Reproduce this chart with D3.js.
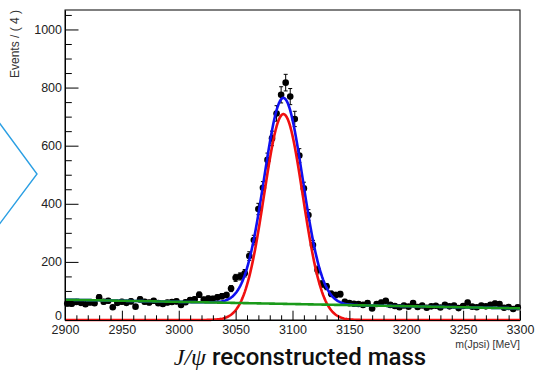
<!DOCTYPE html>
<html>
<head>
<meta charset="utf-8">
<script src="https://cdn.jsdelivr.net/npm/d3@7"></script>
<style>
  html, body { margin: 0; padding: 0; background: #fff; }
  #container { width: 539px; height: 375px; }
</style>
</head>
<body>
<div id="container"></div>
<script>
// histogram bin centres (4 MeV bins from 2900 to 3300)
const binCenters = [
  2902, 2906, 2910, 2914, 2918, 2922, 2926, 2930, 2934, 2938,
  2942, 2946, 2950, 2954, 2958, 2962, 2966, 2970, 2974, 2978,
  2982, 2986, 2990, 2994, 2998, 3002, 3006, 3010, 3014, 3018,
  3022, 3026, 3030, 3034, 3038, 3042, 3046, 3050, 3054, 3058,
  3062, 3066, 3070, 3074, 3078, 3082, 3086, 3090, 3094, 3098,
  3102, 3106, 3110, 3114, 3118, 3122, 3126, 3130, 3134, 3138,
  3142, 3146, 3150, 3154, 3158, 3162, 3166, 3170, 3174, 3178,
  3182, 3186, 3190, 3194, 3198, 3202, 3206, 3210, 3214, 3218,
  3222, 3226, 3230, 3234, 3238, 3242, 3246, 3250, 3254, 3258,
  3262, 3266, 3270, 3274, 3278, 3282, 3286, 3290, 3294, 3298
];
// events per bin
const binCounts = [
  57, 56, 62, 59, 54, 60, 58, 78, 63, 66,
  44, 59, 63, 59, 64, 46, 71, 63, 60, 66,
  58, 55, 60, 62, 64, 52, 61, 69, 71, 87,
  70, 74, 73, 78, 82, 86, 108, 145, 150, 161,
  220, 275, 382, 455, 551, 625, 711, 775, 817, 769,
  692, 566, 453, 361, 258, 172, 124, 115, 90, 86,
  89, 63, 58, 56, 55, 52, 58, 40, 55, 60,
  66, 52, 48, 44, 50, 46, 58, 45, 50, 42,
  47, 49, 43, 52, 47, 50, 41, 48, 60, 46,
  44, 50, 47, 52, 57, 55, 42, 45, 38, 44
];

// fit results (gaussian signal + linear background)
const sigMean = 3092;
const sigSigma = 17;
const sigPeak = 709;
const bkgEnds = [70, 40]; // background level at 2900 and 3300 MeV

// axis ticks
const xMajorTicks = [2900, 2950, 3000, 3050, 3100, 3150, 3200, 3250, 3300];
const yMajorTicks = [0, 200, 400, 600, 800, 1000];

document.addEventListener("DOMContentLoaded", function() {
    const width = 539, height = 375;
    const left = 65, right = 520, top = 10, bottom = 320;

    const x = d3.scaleLinear().domain([2900, 3300]).range([left, right]);
    const y = d3.scaleLinear().domain([0, 1067]).range([bottom, top]);

    const bkg = m => bkgEnds[0] + (bkgEnds[1] - bkgEnds[0]) * (m - 2900) / 400;
    const sig = m => sigPeak * Math.exp(-0.5 * Math.pow((m - sigMean) / sigSigma, 2));
    const grid = d3.range(2900, 3300.5, 1);

    const svg = d3.select("#container").append("svg")
        .attr("width", width)
        .attr("height", height)
        .attr("font-family", "'Liberation Sans', Arial, sans-serif");

    // the blue chevron on the left edge
    svg.append("polyline")
        .attr("points", "-2,121 37,174 -2,226")
        .attr("fill", "none")
        .attr("stroke", "#2b9fe3")
        .attr("stroke-width", 1.4);

    // frame
    svg.append("rect")
        .attr("x", left).attr("y", top)
        .attr("width", right - left).attr("height", bottom - top)
        .attr("fill", "none")
        .attr("stroke", "#000")
        .attr("stroke-width", 1);

    // data points with poisson errors
    const data = binCenters.map((m, i) => ({m: m, n: binCounts[i]}));
    const pts = svg.append("g");
    pts.selectAll("line.err")
      .data(data)
      .join("line")
        .attr("class", "err")
        .attr("x1", d => x(d.m)).attr("x2", d => x(d.m))
        .attr("y1", d => y(d.n - Math.sqrt(d.n)))
        .attr("y2", d => y(d.n + Math.sqrt(d.n)))
        .attr("stroke", "#000").attr("stroke-width", 1);
    [1, -1].forEach(s => {
        pts.selectAll("line.cap" + s)
          .data(data)
          .join("line")
            .attr("x1", d => x(d.m) - 2).attr("x2", d => x(d.m) + 2)
            .attr("y1", d => y(d.n + s * Math.sqrt(d.n)))
            .attr("y2", d => y(d.n + s * Math.sqrt(d.n)))
            .attr("stroke", "#000").attr("stroke-width", 1);
    });
    pts.selectAll("circle")
      .data(data)
      .join("circle")
        .attr("cx", d => x(d.m))
        .attr("cy", d => y(d.n))
        .attr("r", 3.3)
        .attr("fill", "#000");

    // fit curves
    const line = d3.line().x(d => x(d[0])).y(d => y(d[1]));
    const curves = [
        {color: "#1010f0", f: m => sig(m) + bkg(m)},
        {color: "#f01010", f: sig},
        {color: "#1a9a1a", f: bkg}
    ];
    curves.forEach(c => {
        svg.append("path")
            .attr("d", line(grid.map(m => [m, c.f(m)])))
            .attr("fill", "none")
            .attr("stroke", c.color)
            .attr("stroke-width", 2.6)
            .attr("stroke-linejoin", "round");
    });

    // y axis (ticks inside, ROOT style)
    const yMinor = d3.range(0, 1067, 50).filter(v => v % 200 !== 0);
    svg.append("g")
        .attr("transform", `translate(${left},0)`)
        .call(d3.axisLeft(y).tickValues(yMinor).tickSize(-6.8).tickFormat(""))
        .call(g => g.select(".domain").remove());
    svg.append("g")
        .attr("transform", `translate(${left},0)`)
        .call(d3.axisLeft(y).tickValues(yMajorTicks).tickSize(-13.5).tickSizeOuter(0).tickPadding(3).tickFormat(d3.format("d")))
        .call(g => g.selectAll("text").attr("font-size", 12.5).attr("fill", "#222"))
        .call(g => g.selectAll(".tick text").filter(d => d === 0).attr("dy", "-0.08em"));

    // x axis
    const xMinor = d3.range(2900, 3301, 10).filter(v => v % 50 !== 0);
    svg.append("g")
        .attr("transform", `translate(0,${bottom})`)
        .call(d3.axisBottom(x).tickValues(xMinor).tickSize(-4.7).tickFormat(""))
        .call(g => g.select(".domain").remove());
    svg.append("g")
        .attr("transform", `translate(0,${bottom})`)
        .call(d3.axisBottom(x).tickValues(xMajorTicks).tickSize(-9.3).tickSizeOuter(0).tickPadding(5).tickFormat(d3.format("d")))
        .call(g => g.selectAll("text").attr("font-size", 12.5).attr("fill", "#222"));

    // axis titles
    svg.append("text")
        .attr("x", right).attr("y", 348)
        .attr("text-anchor", "end")
        .attr("font-size", 10.5)
        .attr("fill", "#333")
        .text("m(Jpsi) [MeV]");
    svg.append("text")
        .attr("transform", "translate(19,10) rotate(-90)")
        .attr("text-anchor", "end")
        .attr("font-size", 12)
        .attr("fill", "#333")
        .text("Events / ( 4 )");

    // caption below the plot
    const cap = svg.append("text")
        .attr("x", 300).attr("y", 365)
        .attr("text-anchor", "middle")
        .attr("font-size", 24)
        .attr("fill", "#111");
    cap.append("tspan")
        .attr("font-family", "'Liberation Serif', 'DejaVu Serif', serif")
        .attr("font-style", "italic")
        .text("J/ψ ");
    cap.append("tspan")
        .attr("font-family", "Roboto, 'Liberation Sans', sans-serif")
        .attr("font-weight", 500)
        .text("reconstructed mass");
});
</script>
</body>
</html>
